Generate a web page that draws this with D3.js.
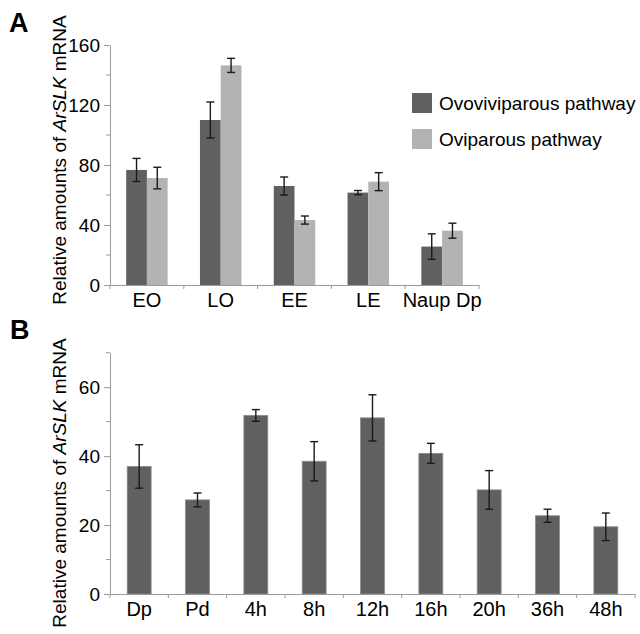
<!DOCTYPE html>
<html>
<head>
<meta charset="utf-8">
<script src="https://cdn.jsdelivr.net/npm/d3@7"></script>
<style>
  body { margin: 0; background: #fff; }
  svg { font-family: "Liberation Sans", Arial, sans-serif; }
</style>
</head>
<body>
<div id="chart"></div>
<script>
const DARK = '#606060'
const LIGHT = '#b3b3b3'
const AXIS_COLOR = '#9a9a9a'

// Panel A data
const catsA = ['EO', 'LO', 'EE', 'LE', 'Naup Dp']
const seriesA = ['Ovoviviparous pathway', 'Oviparous pathway']
const ovoviviparous = [76.7, 110, 66, 61.6, 25.6]
const ovoviviparousErr = [7.7, 12, 6, 1.4, 8.5]
const oviparous = [71.3, 146.4, 43.3, 68.9, 36.2]
const oviparousErr = [7.2, 4.7, 2.7, 6, 5]
const ticksA = [0, 40, 80, 120, 160]
const minorA = [20, 60, 100, 140]

// Panel B data
const catsB = ['Dp', 'Pd', '4h', '8h', '12h', '16h', '20h', '36h', '48h']
const valuesB = [37.0, 27.3, 51.8, 38.5, 51.1, 40.8, 30.2, 22.7, 19.5]
const errB = [6.3, 2.0, 1.7, 5.7, 6.7, 2.9, 5.6, 1.9, 4.0]
const ticksB = [0, 20, 40, 60]
const minorB = [10, 30, 50, 70]

const svg = d3.select('#chart').append('svg')
  .attr('width', 640)
  .attr('height', 634)

function yAxis (g, y, ticks, minor) {
  g.call(d3.axisLeft(y).tickValues(ticks).tickSize(6).tickSizeOuter(0).tickPadding(4))
  g.select('.domain').attr('stroke', AXIS_COLOR)
  g.selectAll('.tick line').attr('stroke', AXIS_COLOR)
  g.selectAll('.tick text').attr('fill', '#000').style('font-size', '19px')
  g.selectAll('.minor').data(minor).enter().append('line')
    .attr('class', 'minor')
    .attr('x1', -4).attr('x2', 0)
    .attr('y1', d => y(d)).attr('y2', d => y(d))
    .attr('stroke', AXIS_COLOR)
}

function xAxis (g, x, y0) {
  g.attr('transform', 'translate(0,' + y0 + ')')
  g.call(d3.axisBottom(x).tickSize(0).tickSizeOuter(0).tickPadding(8))
  g.select('.domain').attr('stroke', AXIS_COLOR)
  g.selectAll('.tick text').attr('fill', '#000').style('font-size', '20px')
  // boundary ticks between categories
  const bounds = x.domain().map(d => x(d)).concat([x(x.domain()[x.domain().length - 1]) + x.bandwidth()])
  g.selectAll('.btick').data(bounds).enter().append('line')
    .attr('class', 'btick')
    .attr('x1', d => d).attr('x2', d => d)
    .attr('y1', 0).attr('y2', 4)
    .attr('stroke', AXIS_COLOR)
}

function axisTitle (cy) {
  const t = svg.append('text')
    .attr('transform', 'translate(66,' + cy + ') rotate(-90)')
    .attr('text-anchor', 'middle')
    .style('font-size', '19px')
  t.append('tspan').text('Relative amounts of ')
  t.append('tspan').attr('font-style', 'italic').text('ArSLK')
  t.append('tspan').text(' mRNA')
}

function errorBars (g, cx, v, e, y) {
  const eb = g.append('g')
    .attr('stroke', '#1a1a1a')
    .attr('stroke-width', 1.4)
  eb.append('line')
    .attr('x1', cx).attr('x2', cx)
    .attr('y1', y(v + e)).attr('y2', y(v - e))
  eb.append('line')
    .attr('x1', cx - 4).attr('x2', cx + 4)
    .attr('y1', y(v + e)).attr('y2', y(v + e))
  eb.append('line')
    .attr('x1', cx - 4).attr('x2', cx + 4)
    .attr('y1', y(v - e)).attr('y2', y(v - e))
}

// ===================== PANEL A =====================
const xA = d3.scaleBand().domain(catsA).range([110, 479]).padding(0)
const xA1 = d3.scaleBand().domain(seriesA).range([0, xA.bandwidth()]).paddingInner(0).paddingOuter(0.78)
const yA = d3.scaleLinear().domain([0, 160]).range([285, 45])
const valsA = [ovoviviparous, oviparous]
const errsA = [ovoviviparousErr, oviparousErr]
const colorsA = [DARK, LIGHT]

const gA = svg.append('g')
seriesA.forEach((s, si) => {
  catsA.forEach((c, i) => {
    const x = xA(c) + xA1(s)
    gA.append('rect')
      .attr('x', x)
      .attr('y', yA(valsA[si][i]))
      .attr('width', xA1.bandwidth())
      .attr('height', yA(0) - yA(valsA[si][i]))
      .attr('fill', colorsA[si])
  })
})
seriesA.forEach((s, si) => {
  catsA.forEach((c, i) => {
    errorBars(gA, xA(c) + xA1(s) + xA1.bandwidth() / 2, valsA[si][i], errsA[si][i], yA)
  })
})
yAxis(svg.append('g').attr('transform', 'translate(110,0)'), yA, ticksA, minorA)
xAxis(svg.append('g'), xA, 285)
axisTitle(160)

// Legend
const legend = svg.append('g').attr('transform', 'translate(412,93)')
seriesA.forEach((s, i) => {
  legend.append('rect')
    .attr('x', 0).attr('y', i * 36)
    .attr('width', 20).attr('height', 20)
    .attr('fill', colorsA[i])
  legend.append('text')
    .attr('x', 27).attr('y', i * 36 + 10)
    .attr('dy', '0.35em')
    .style('font-size', '19px')
    .text(s)
})

svg.append('text')
  .attr('x', 9).attr('y', 32)
  .style('font-size', '27px').style('font-weight', 'bold')
  .text('A')

// ===================== PANEL B =====================
const xB = d3.scaleBand().domain(catsB).range([110, 635]).padding(0)
const yB = d3.scaleLinear().domain([0, 70]).range([594, 352.7])
const barW = xB.bandwidth() * 0.41

const gB = svg.append('g')
catsB.forEach((c, i) => {
  gB.append('rect')
    .attr('x', xB(c) + (xB.bandwidth() - barW) / 2)
    .attr('y', yB(valuesB[i]))
    .attr('width', barW)
    .attr('height', yB(0) - yB(valuesB[i]))
    .attr('fill', DARK)
    .attr('stroke', '#8a8a8a')
    .attr('stroke-width', 0.8)
})
catsB.forEach((c, i) => {
  errorBars(gB, xB(c) + xB.bandwidth() / 2, valuesB[i], errB[i], yB)
})
yAxis(svg.append('g').attr('transform', 'translate(110,0)'), yB, ticksB, minorB)
xAxis(svg.append('g'), xB, 594)
axisTitle(483)

svg.append('text')
  .attr('x', 10).attr('y', 339)
  .style('font-size', '27px').style('font-weight', 'bold')
  .text('B')
</script>
</body>
</html>
